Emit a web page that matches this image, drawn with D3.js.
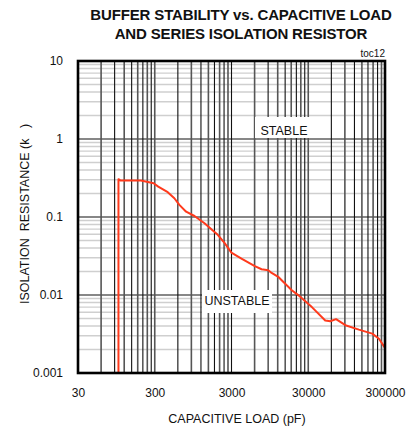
<!DOCTYPE html>
<html>
<head>
<meta charset="utf-8">
<script src="https://cdn.jsdelivr.net/npm/d3@7"></script>
<style>
  body { margin: 0; background: #fff; }
  svg { display: block; font-family: "Liberation Sans", Arial, sans-serif; }
</style>
</head>
<body>
<div id="chart"></div>
<script>
// values
const capLoad = [101, 101, 108, 198, 290, 333, 443, 540, 628, 769, 988, 1335, 2000, 2444, 2990,
  4045, 6040, 7395, 9054, 10000, 12350, 18300, 22380, 33450, 49950, 58090, 69000, 91400,
  136900, 204700, 250200, 300000];
const isoRes = [0.001, 0.305, 0.293, 0.293, 0.271, 0.245, 0.208, 0.174, 0.143, 0.117, 0.103,
  0.083, 0.0587, 0.0463, 0.0349, 0.0292, 0.0234, 0.0214, 0.0208, 0.0192, 0.0169, 0.0115,
  0.0099, 0.007, 0.0047, 0.0046, 0.0049, 0.0041, 0.0036, 0.0032, 0.00275, 0.0021];
const xTicks = [30, 300, 3000, 30000, 300000];
const yTicks = [0.001, 0.01, 0.1, 1, 10];

const width = 414, height = 433;
const margin = { top: 61, right: 29, bottom: 60, left: 78 };

const svg = d3.select("#chart").append("svg")
  .attr("width", width)
  .attr("height", height);

const x = d3.scaleLog().domain([30, 300000]).range([margin.left, width - margin.right]);
const y = d3.scaleLog().domain([0.001, 10]).range([height - margin.bottom, margin.top]);

// grid: minor horizontal (2..9 per decade), major horizontal, vertical log grid based on 30
const yMinor = [];
for (let p = -3; p < 1; p++) for (let k = 2; k <= 9; k++) yMinor.push(k * Math.pow(10, p));
const xGrid = [];
for (let p = 0; p < 4; p++) for (let k = 2; k <= 10; k++) xGrid.push(30 * k * Math.pow(10, p));

svg.append("g")
  .selectAll("line")
  .data(yMinor)
  .join("line")
  .attr("x1", x.range()[0]).attr("x2", x.range()[1])
  .attr("y1", d => y(d)).attr("y2", d => y(d))
  .attr("stroke", "#cfcfcf")
  .attr("stroke-width", 1.4);

svg.append("g")
  .selectAll("line")
  .data(yTicks)
  .join("line")
  .attr("x1", x.range()[0]).attr("x2", x.range()[1])
  .attr("y1", d => y(d)).attr("y2", d => y(d))
  .attr("stroke", "#111")
  .attr("stroke-width", 1.2);

svg.append("g")
  .selectAll("line")
  .data(xGrid)
  .join("line")
  .attr("x1", d => x(d)).attr("x2", d => x(d))
  .attr("y1", y.range()[0]).attr("y2", y.range()[1])
  .attr("stroke", (d, i) => (i % 2 ? "#111" : "#555"))
  .attr("stroke-width", (d, i) => (i % 2 ? 1.1 : 1.6));

// label boxes
const boxes = [
  { x0: 255, y0: 117, x1: 311, y1: 138, text: "STABLE", cx: 284, by: 135 },
  { x0: 202, y0: 290, x1: 272, y1: 313, text: "UNSTABLE", cx: 237, by: 305 }
];
svg.append("g")
  .selectAll("rect")
  .data(boxes)
  .join("rect")
  .attr("x", d => d.x0).attr("y", d => d.y0)
  .attr("width", d => d.x1 - d.x0).attr("height", d => d.y1 - d.y0)
  .attr("fill", "#fff");
svg.append("g")
  .selectAll("text")
  .data(boxes)
  .join("text")
  .attr("x", d => d.cx).attr("y", d => d.by)
  .attr("text-anchor", "middle")
  .attr("font-size", "12.5px")
  .attr("fill", "#111")
  .text(d => d.text);

// curve
const pts = capLoad.map((c, i) => [c, isoRes[i]]);
svg.append("path")
  .datum(pts)
  .attr("fill", "none")
  .attr("stroke", "#ff3a1c")
  .attr("stroke-width", 2)
  .attr("stroke-linejoin", "round")
  .attr("d", d3.line().x(d => x(d[0])).y(d => y(d[1])));

// frame
svg.append("rect")
  .attr("x", x.range()[0]).attr("y", y.range()[1])
  .attr("width", x.range()[1] - x.range()[0])
  .attr("height", y.range()[0] - y.range()[1])
  .attr("fill", "none")
  .attr("stroke", "#000")
  .attr("stroke-width", 2.6);

// axes (labels only)
const xAxis = d3.axisBottom(x).tickValues(xTicks).tickSize(0).tickPadding(15)
  .tickFormat(d3.format("d"));
svg.append("g")
  .attr("transform", "translate(0," + y.range()[0] + ")")
  .call(xAxis)
  .call(g => g.select(".domain").remove())
  .selectAll("text")
  .attr("font-size", "12px")
  .attr("font-family", "Liberation Sans, Arial, sans-serif")
  .attr("fill", "#111");

const yAxis = d3.axisLeft(y).tickValues(yTicks).tickSize(0).tickPadding(15)
  .tickFormat(d => String(d));
svg.append("g")
  .attr("transform", "translate(" + x.range()[0] + ",0)")
  .call(yAxis)
  .call(g => g.select(".domain").remove())
  .selectAll("text")
  .attr("font-size", "12px")
  .attr("font-family", "Liberation Sans, Arial, sans-serif")
  .attr("fill", "#111");

// titles
svg.append("text")
  .attr("x", 241).attr("y", 20)
  .attr("text-anchor", "middle")
  .attr("font-size", "15px").attr("font-weight", "bold")
  .attr("letter-spacing", "-0.15px")
  .attr("fill", "#111")
  .text("BUFFER STABILITY vs. CAPACITIVE LOAD");
svg.append("text")
  .attr("x", 241).attr("y", 39)
  .attr("text-anchor", "middle")
  .attr("font-size", "15px").attr("font-weight", "bold")
  .attr("letter-spacing", "-0.15px")
  .attr("fill", "#111")
  .text("AND SERIES ISOLATION RESISTOR");

svg.append("text")
  .attr("x", 385).attr("y", 57)
  .attr("text-anchor", "end")
  .attr("font-size", "10px")
  .attr("fill", "#111")
  .text("toc12");

svg.append("text")
  .attr("x", 237).attr("y", 423)
  .attr("text-anchor", "middle")
  .attr("font-size", "12.5px")
  .attr("fill", "#111")
  .text("CAPACITIVE  LOAD (pF)");

svg.append("text")
  .attr("transform", "translate(29,214) rotate(-90)")
  .attr("text-anchor", "middle")
  .attr("font-size", "12.5px")
  .attr("fill", "#111")
  .style("white-space", "pre")
  .text("ISOLATION  RESISTANCE (k   )");
</script>
</body>
</html>
